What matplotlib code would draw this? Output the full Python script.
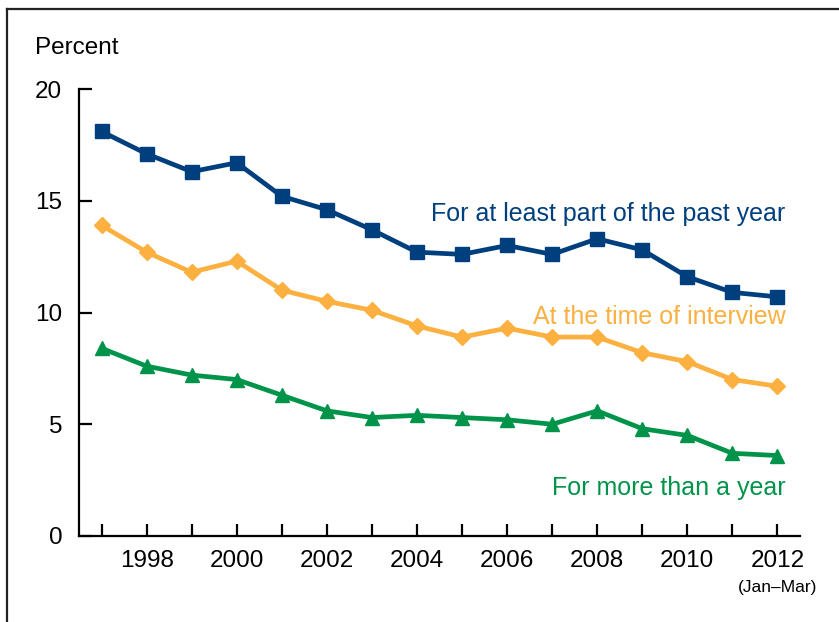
import matplotlib
matplotlib.use("Agg")
import matplotlib.pyplot as plt
from matplotlib.lines import Line2D

plt.rcParams['font.family'] = ['Liberation Sans', 'DejaVu Sans']

years = list(range(1997, 2013))
past_year = [18.1, 17.1, 16.3, 16.7, 15.2, 14.6, 13.7, 12.7, 12.6, 13.0, 12.6, 13.3, 12.8, 11.6, 10.9, 10.7]
at_interview = [13.9, 12.7, 11.8, 12.3, 11.0, 10.5, 10.1, 9.4, 8.9, 9.3, 8.9, 8.9, 8.2, 7.8, 7.0, 6.7]
more_than_year = [8.4, 7.6, 7.2, 7.0, 6.3, 5.6, 5.3, 5.4, 5.3, 5.2, 5.0, 5.6, 4.8, 4.5, 3.7, 3.6]
xtick_labels = ['1998', '2000', '2002', '2004', '2006', '2008', '2010', '2012']
ytick_vals = [0, 5, 10, 15, 20]

c_blue = '#003F7D'
c_orange = '#FBB040'
c_green = '#00934A'

fig = plt.figure(figsize=(8.39, 6.22), dpi=100)
ax = fig.add_axes([79/839, 1-536/622, (800-79)/839, (536-89)/622])

ax.plot(years, past_year, color=c_blue, lw=3.4, marker='s', ms=10, zorder=3)
ax.plot(years, at_interview, color=c_orange, lw=3.4, marker='D', ms=8.5, zorder=3)
ax.plot(years, more_than_year, color=c_green, lw=3.4, marker='^', ms=10.5, zorder=3)

ax.set_xlim(1996.5, 2012.5)
ax.set_ylim(0, 20)
ax.spines['top'].set_visible(False)
ax.spines['right'].set_visible(False)
for s in ['left', 'bottom']:
    ax.spines[s].set_linewidth(1.6)
ax.set_yticks(ytick_vals)
ax.set_xticks(years, minor=False)
ax.set_xticklabels([str(y) if str(y) in xtick_labels else '' for y in years])
ax.tick_params(axis='both', direction='in', length=9, width=1.6, labelsize=17.5)
ax.tick_params(axis='y', pad=12)
ax.tick_params(axis='x', pad=10)

ax.text(2012, -1.95, '(Jan\u2013Mar)', ha='center', va='top', fontsize=12.5)

ax.text(2012.18, 14.4, 'For at least part of the past year', color=c_blue, ha='right', va='center', fontsize=18)
ax.text(2012.18, 9.8, 'At the time of interview', color=c_orange, ha='right', va='center', fontsize=18)
ax.text(2012.18, 2.15, 'For more than a year', color=c_green, ha='right', va='center', fontsize=18)

fig.text(35/839, 1-48/622, 'Percent', ha='left', va='center', fontsize=17.5)

fig.add_artist(Line2D([7/839, 7/839], [-0.1, 1-9/622], color='#222222', lw=1.6, transform=fig.transFigure))
fig.add_artist(Line2D([7/839, 1.1], [1-9/622, 1-9/622], color='#222222', lw=1.6, transform=fig.transFigure))

fig.savefig('out.png', dpi=100)
